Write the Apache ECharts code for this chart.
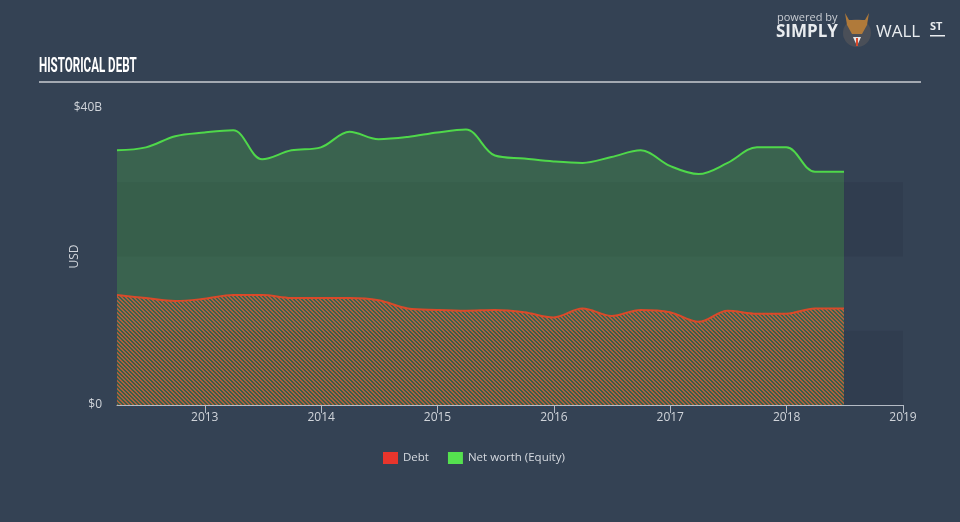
<!DOCTYPE html>
<html>
<head>
<meta charset="utf-8">
<script src="https://cdn.jsdelivr.net/npm/echarts@6/dist/echarts.min.js"></script>
<style>
html,body{margin:0;padding:0;background:#344254;}
#c{width:960px;height:522px;}
</style>
</head>
<body>
<div id="c"></div>
<script>
// Quarter-end dates
const dates = ['2012-03-31','2012-06-30','2012-09-30','2012-12-31',
  '2013-03-31','2013-06-30','2013-09-30','2013-12-31',
  '2014-03-31','2014-06-30','2014-09-30','2014-12-31',
  '2015-03-31','2015-06-30','2015-09-30','2015-12-31',
  '2016-03-31','2016-06-30','2016-09-30','2016-12-31',
  '2017-03-31','2017-06-30','2017-09-30','2017-12-31',
  '2018-03-31','2018-06-30'];
// Values in USD billions
const debt = [14.8,14.4,14.0,14.3,14.8,14.8,14.4,14.4,14.4,14.1,13.0,12.8,12.7,12.8,12.5,11.8,13.0,12.0,12.8,12.5,11.2,12.7,12.3,12.3,13.0,13.0];
const netWorth = [34.3,34.7,36.2,36.7,37.0,33.1,34.3,34.7,36.8,35.8,36.1,36.7,37.1,33.6,33.2,32.8,32.6,33.4,34.3,32.2,31.1,32.6,34.7,34.7,31.4,31.4];
const yearTicks = [2013,2014,2015,2016,2017,2018,2019];
const yTicks = [0,40];

function decYear(s){
  const d = new Date(s+'T00:00:00Z');
  const y = d.getUTCFullYear();
  const start = Date.UTC(y,0,1), end = Date.UTC(y+1,0,1);
  return y + (d.getTime()-start)/(end-start);
}
const xs = dates.map(decYear);

// hatch pattern
const pc = document.createElement('canvas');
pc.width = 4; pc.height = 4;
const pctx = pc.getContext('2d');
const img = pctx.createImageData(4,4);
for(let y=0;y<4;y++)for(let x=0;x<4;x++){
  const i=(y*4+x)*4;
  if(((x-y)%4+4)%4<2){img.data[i]=232;img.data[i+1]=95;img.data[i+2]=52;img.data[i+3]=170;}
  else {img.data[i+3]=0;}
}
pctx.putImageData(img,0,0);

const font = 'Open Sans';
const chart = echarts.init(document.getElementById('c'), null, {renderer:'canvas'});
chart.setOption({
  backgroundColor:'#344254',
  animation:false,
  textStyle:{fontFamily:font},
  grid:{left:117,right:57,top:108,bottom:117},
  legend:{
    bottom:53,left:378,
    itemWidth:15,itemHeight:12,itemGap:19,icon:'rect',
    textStyle:{color:'#d6dae0',fontSize:11.5,fontFamily:font},
    data:[{name:'Debt',itemStyle:{color:'#e8352c'}},{name:'Net worth (Equity)',itemStyle:{color:'#55e04f'}}]
  },
  xAxis:{
    type:'value',min:'dataMin',max:2019,
    axisLine:{lineStyle:{color:'#b4bbc5',width:1}},
    axisTick:{show:true,length:8,customValues:yearTicks,lineStyle:{color:'#b4bbc5'}},
    axisLabel:{customValues:yearTicks,color:'#d0d4da',fontSize:12,margin:7,formatter:v=>String(Math.round(v))},
    splitLine:{show:false}
  },
  yAxis:{
    type:'value',min:0,max:40,interval:10,
    name:'USD',nameLocation:'middle',nameGap:36,nameRotate:90,nameMoveOverlap:false,
    nameTextStyle:{color:'#d0d4da',fontSize:12},
    axisLine:{show:false},axisTick:{show:false},
    axisLabel:{customValues:yTicks,color:'#d0d4da',fontSize:12,margin:15,formatter:v=>v===0?'$0':'$'+v+'B'},
    splitLine:{show:false},
    splitArea:{show:true,areaStyle:{color:['#303d4f','rgba(0,0,0,0)']}}
  },
  series:[
    {
      name:'Net worth (Equity)',type:'line',smooth:0.35,symbol:'none',
      data:xs.map((x,i)=>[x,netWorth[i]]),
      lineStyle:{color:'#4fd84a',width:2},
      itemStyle:{color:'#55e04f'},
      areaStyle:{color:'rgba(75,200,65,0.25)',opacity:1},
      z:2
    },
    {
      name:'Debt',type:'line',smooth:0.35,symbol:'none',
      data:xs.map((x,i)=>[x,debt[i]]),
      lineStyle:{color:'#d94a2a',width:2},
      itemStyle:{color:'#e8352c'},
      areaStyle:{color:{image:pc,repeat:'repeat'},opacity:1},
      z:3
    }
  ],
  graphic:[
    {type:'text',x:39,y:57,scaleX:0.58,style:{text:'HISTORICAL DEBT',fill:'#ffffff',font:'bold 20px Roboto, sans-serif'}},
    {type:'rect',shape:{x:39,y:81,width:882,height:2},style:{fill:'#a3a9b2'}},
    {type:'text',left:777,top:12,style:{text:'powered by',fill:'#c9cdd3',font:'11px "Open Sans", sans-serif'}},
    {type:'text',left:776,top:24,style:{text:'SIMPLY',fill:'#e9ecef',font:'bold 17px "Open Sans", sans-serif'}},
    {type:'circle',shape:{cx:857,cy:33,r:14},style:{fill:'#4a4f58'}},
    {type:'polygon',shape:{points:[[845,13],[849,20],[865,20],[869,13],[867,25],[862,34],[852,34],[847,25]]},style:{fill:'#b07a3a'}},
    {type:'polygon',shape:{points:[[853,37],[861,37],[857,46]]},style:{fill:'#e6e6e6'}},
    {type:'rect',shape:{x:856,y:38,width:2,height:8},style:{fill:'#d9482b'}},
    {type:'text',left:876,top:24,style:{text:'WALL',fill:'#e9ecef',font:'17px "Open Sans", sans-serif'}},
    {type:'text',left:930,top:21,style:{text:'ST',fill:'#e9ecef',font:'bold 11px "Open Sans", sans-serif'}},
    {type:'rect',shape:{x:930,y:35,width:15,height:1.5},style:{fill:'#e9ecef'}}
  ]
});
</script>
</body>
</html>
